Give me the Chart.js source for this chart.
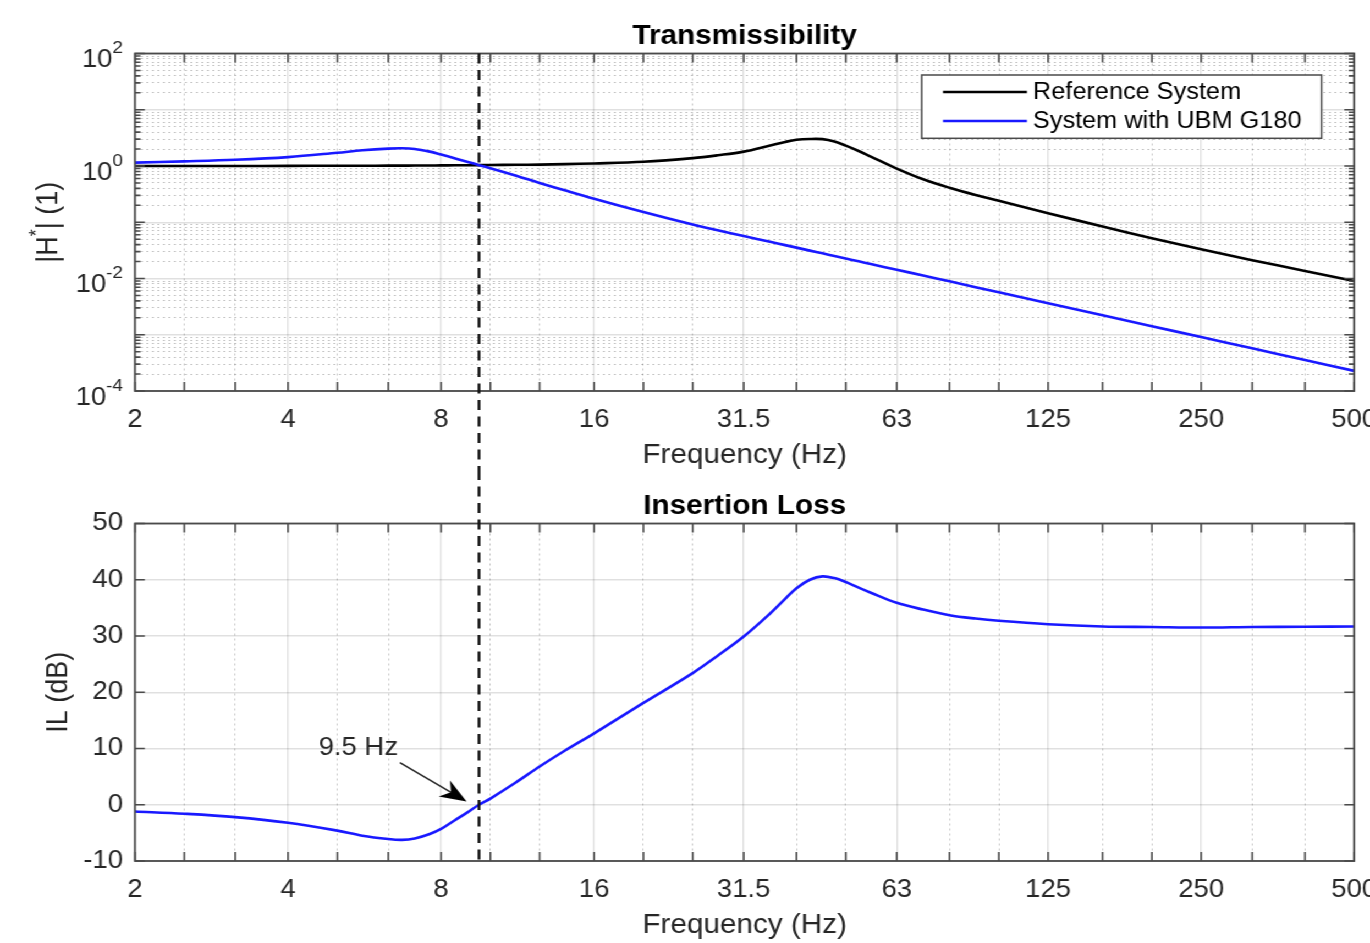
<!DOCTYPE html>
<html>
<head>
<meta charset="utf-8">
<title>Transmissibility / Insertion Loss</title>
<script src="https://cdn.jsdelivr.net/npm/chart.js@4.4.1/dist/chart.umd.min.js"></script>
<style>
  html, body { margin: 0; padding: 0; background: #fff; overflow: hidden; }
  /* the figure is a bit wider than tall in its lettering, so stretch it sideways */
  #wrap { position: absolute; left: 0; top: 0; width: 1266px; height: 943px; transform: scaleX(1.1); transform-origin: 0 0; }
  canvas { position: absolute; left: 0; }
  #topChart { top: 0; }
  #ilChart { top: 470px; }
</style>
</head>
<body>
<div id="wrap">
  <canvas id="topChart" width="1266" height="470"></canvas>
  <canvas id="ilChart" width="1266" height="470"></canvas>
</div>
<script>
// --- data ---
const freqHz = [2, 2.5, 3.15, 4, 5, 5.6, 6.3, 6.7, 7.1, 7.6, 8, 8.5, 9, 9.5, 10, 11.2, 12.5, 14, 16, 20,
  25, 28, 31.5, 35.5, 38, 40, 42.5, 45, 47.5, 50, 53, 56, 63, 71, 80, 90, 100, 125, 160, 200, 250, 315, 400, 500];

// |H*| of the reference system
const refH = [1.0, 1.0, 1.0, 1.005, 1.01, 1.01, 1.015, 1.015, 1.02, 1.02, 1.025, 1.03, 1.03, 1.035, 1.04,
  1.05, 1.06, 1.08, 1.11, 1.19, 1.38, 1.55, 1.80, 2.32, 2.68, 2.92, 3.02, 3.0, 2.72, 2.3, 1.85, 1.47,
  0.90, 0.58, 0.41, 0.305, 0.24, 0.145, 0.084, 0.052, 0.033, 0.0212, 0.0136, 0.0090];

// |H*| with UBM G180
const ubmH = [1.15, 1.21, 1.29, 1.44, 1.72, 1.9, 2.04, 2.07, 2.01, 1.8, 1.6, 1.38, 1.19, 1.035, 0.915,
  0.68, 0.50, 0.37, 0.262, 0.152, 0.091, 0.072, 0.057, 0.0449, 0.0392, 0.0354, 0.0313, 0.0280, 0.0251,
  0.0227, 0.0202, 0.0181, 0.0143, 0.0113, 0.0089, 0.0070, 0.0057, 0.00364, 0.00222, 0.00142, 0.00091,
  0.000573, 0.000356, 0.000228];

// insertion loss (dB)
const ilDb = [-1.2, -1.6, -2.2, -3.2, -4.6, -5.5, -6.1, -6.25, -6.0, -5.2, -4.3, -2.8, -1.4, 0, 1.1,
  3.9, 6.8, 9.6, 12.7, 18.1, 23.4, 26.5, 29.9, 34.0, 36.6, 38.5, 40.0, 40.6, 40.3, 39.6, 38.6, 37.7,
  35.9, 34.7, 33.7, 33.1, 32.7, 32.1, 31.7, 31.6, 31.5, 31.6, 31.65, 31.7];

// ticks
const thirdOctaveHz = [2, 2.5, 3.15, 4, 5, 6.3, 8, 10, 12.5, 16, 20, 25, 31.5, 40, 50, 63, 80, 100, 125,
  160, 200, 250, 315, 400, 500];
const octaveHz = [2, 4, 8, 16, 31.5, 63, 125, 250, 500];
const octaveLabels = ['2', '4', '8', '16', '31.5', '63', '125', '250', '500'];
const hDecades = [1e-4, 1e-3, 1e-2, 1e-1, 1, 10, 100];
const hLabelExponents = [-4, -2, 0, 2];
const ilTicks = [-10, 0, 10, 20, 30, 40, 50];

// crossover marker and its note
const crossoverHz = 9.5;
const noteText = '9.5 Hz';
const notePos = [5.5, 10.1];
const arrowTail = [6.64, 7.5];
const arrowTip = [8.98, 0.6];

// --- styling ---
const FONT = "'Liberation Sans', Arial, Helvetica, sans-serif";
const TEXT = '#262626';
const AXIS = '#4a4a4a';
const GRID_MAJOR = 'rgba(0,0,0,0.12)';
const GRID_MINOR = 'rgba(0,0,0,0.22)';
const BLUE = 'rgb(25,25,255)';
const PLOT_LEFT = 122.7;
const PLOT_RIGHT = 1231.8;
const CANVAS_W = 1266;
const XAXIS_H = 79;

Chart.defaults.font.family = FONT;
Chart.defaults.color = TEXT;

function isOctave(v) {
  return octaveHz.indexOf(v) >= 0;
}

function isDecade(v) {
  const l = Math.log10(v);
  return Math.abs(l - Math.round(l)) < 1e-6;
}

// minor y ticks for the log axis (2..9 in every decade)
const hTicks = [];
hDecades.forEach(d => {
  hTicks.push(d);
  if (d < 100) for (let m = 2; m <= 9; m++) hTicks.push(d * m);
});

function freqAxis() {
  return {
    type: 'logarithmic',
    min: 2,
    max: 500,
    afterBuildTicks: s => { s.ticks = thirdOctaveHz.map(v => ({ value: v })); },
    afterFit: s => { s.height = XAXIS_H; },
    ticks: {
      autoSkip: false,
      maxRotation: 0,
      minRotation: 0,
      padding: 14,
      color: TEXT,
      font: { size: 25 },
      callback: v => {
        const i = octaveHz.indexOf(v);
        return i >= 0 ? octaveLabels[i] : '';
      }
    },
    grid: {
      drawTicks: false,
      color: c => (c.tick && !isOctave(c.tick.value)) ? GRID_MINOR : GRID_MAJOR,
      lineWidth: c => (c.tick && !isOctave(c.tick.value)) ? 1 : 1.4
    },
    border: {
      display: false,
      dash: c => (c.tick && !isOctave(c.tick.value)) ? [2, 3] : []
    },
    title: {
      display: true,
      text: 'Frequency (Hz)',
      color: TEXT,
      font: { size: 27, lineHeight: 1.1 },
      padding: { top: 0, bottom: 0 }
    }
  };
}

function plotTitle(text) {
  return {
    display: true,
    text: text,
    color: '#000',
    fullSize: false,
    font: { size: 27, weight: 'bold', lineHeight: 1 },
    padding: { top: 23.5, bottom: 3 }
  };
}

// box round the plot with inward tick marks on all four sides
const frame = {
  id: 'frame',
  afterDatasetsDraw(chart) {
    const { ctx, chartArea: a, scales } = chart;
    ctx.save();
    ctx.strokeStyle = AXIS;
    ctx.lineWidth = 1.6;
    ctx.beginPath();
    scales.x.ticks.forEach(t => {
      const px = scales.x.getPixelForValue(t.value);
      ctx.moveTo(px, a.bottom); ctx.lineTo(px, a.bottom - 9);
      ctx.moveTo(px, a.top); ctx.lineTo(px, a.top + 9);
    });
    const logY = scales.y.type === 'logarithmic';
    scales.y.ticks.forEach(t => {
      const py = scales.y.getPixelForValue(t.value);
      const len = (logY && !isDecade(t.value)) ? 5 : 9;
      ctx.moveTo(a.left, py); ctx.lineTo(a.left + len, py);
      ctx.moveTo(a.right, py); ctx.lineTo(a.right - len, py);
    });
    ctx.stroke();
    ctx.lineWidth = 1.8;
    ctx.strokeRect(a.left, a.top, a.right - a.left, a.bottom - a.top);
    ctx.restore();
  }
};

// dashed line at the crossover, running into the gap between the two plots
const crossover = {
  id: 'crossover',
  afterDraw(chart, args, opts) {
    const { ctx, chartArea: a } = chart;
    const x = chart.scales.x.getPixelForValue(crossoverHz);
    const y0 = opts.down ? a.top : 0;
    const y1 = opts.down ? chart.height : a.bottom;
    ctx.save();
    ctx.strokeStyle = '#111';
    ctx.lineWidth = 2.4;
    ctx.setLineDash([10, 6.5]);
    ctx.beginPath();
    ctx.moveTo(x, y0);
    ctx.lineTo(x, y1);
    ctx.stroke();
    ctx.restore();
  }
};

// legend box inside the upper plot
const boxLegend = {
  id: 'boxLegend',
  afterDraw(chart, args, opts) {
    if (!opts.show) return;
    const { ctx } = chart;
    ctx.save();
    ctx.fillStyle = '#fff';
    ctx.fillRect(opts.left, opts.top, opts.right - opts.left, opts.bottom - opts.top);
    ctx.strokeStyle = AXIS;
    ctx.lineWidth = 1.5;
    ctx.strokeRect(opts.left, opts.top, opts.right - opts.left, opts.bottom - opts.top);
    ctx.font = `23px ${FONT}`;
    ctx.textBaseline = 'middle';
    ctx.textAlign = 'left';
    chart.data.datasets.forEach((ds, i) => {
      const y = opts.rows[i];
      ctx.strokeStyle = ds.borderColor;
      ctx.lineWidth = ds.borderWidth;
      ctx.beginPath();
      ctx.moveTo(opts.lineFrom, y);
      ctx.lineTo(opts.lineTo, y);
      ctx.stroke();
      ctx.fillStyle = '#000';
      ctx.fillText(ds.label, opts.textX, y + 1);
    });
    ctx.restore();
  }
};

// 10^n labels and |H*| (1) title
const powerLabels = {
  id: 'powerLabels',
  afterDraw(chart, args, opts) {
    if (!opts.show) return;
    const { ctx, chartArea: a } = chart;
    const y = chart.scales.y;
    const right = PLOT_LEFT - 11;
    ctx.save();
    ctx.fillStyle = TEXT;
    ctx.textBaseline = 'middle';
    hLabelExponents.forEach(e => {
      const py = y.getPixelForValue(Math.pow(10, e));
      const sup = String(e);
      ctx.font = `17px ${FONT}`;
      const w = ctx.measureText(sup).width;
      ctx.textAlign = 'left';
      ctx.fillText(sup, right - w, py - 5);
      ctx.font = `25px ${FONT}`;
      ctx.textAlign = 'right';
      ctx.fillText('10', right - w, py + 7);
    });

    ctx.translate(44.5, (a.top + a.bottom) / 2);
    ctx.rotate(-Math.PI / 2);
    const parts = [['|H', 27, 0], ['*', 18, -10], ['| (1)', 27, 0]];
    let total = 0;
    parts.forEach(p => { ctx.font = `${p[1]}px ${FONT}`; p.push(ctx.measureText(p[0]).width); total += p[3]; });
    let x = -total / 2;
    ctx.textAlign = 'left';
    parts.forEach(p => {
      ctx.font = `${p[1]}px ${FONT}`;
      ctx.fillText(p[0], x, p[2]);
      x += p[3];
    });
    ctx.restore();
  }
};

// "9.5 Hz" with arrow
const note = {
  id: 'note',
  afterDatasetsDraw(chart, args, opts) {
    if (!opts.show) return;
    const { ctx, scales: { x, y } } = chart;
    ctx.save();
    ctx.fillStyle = TEXT;
    ctx.font = `25px ${FONT}`;
    ctx.textAlign = 'center';
    ctx.textBaseline = 'middle';
    ctx.fillText(noteText, x.getPixelForValue(notePos[0]), y.getPixelForValue(notePos[1]));

    const x0 = x.getPixelForValue(arrowTail[0]), y0 = y.getPixelForValue(arrowTail[1]);
    const x1 = x.getPixelForValue(arrowTip[0]), y1 = y.getPixelForValue(arrowTip[1]);
    const d = Math.hypot(x1 - x0, y1 - y0);
    const ux = (x1 - x0) / d, uy = (y1 - y0) / d;
    const L = 24, W = 9.5;
    const bx = x1 - ux * L, by = y1 - uy * L;
    const nx = x1 - ux * L * 0.7, ny = y1 - uy * L * 0.7;
    ctx.strokeStyle = TEXT;
    ctx.lineWidth = 1.6;
    ctx.beginPath();
    ctx.moveTo(x0, y0);
    ctx.lineTo(nx, ny);
    ctx.stroke();
    ctx.fillStyle = '#000';
    ctx.beginPath();
    ctx.moveTo(x1, y1);
    ctx.lineTo(bx - uy * W, by + ux * W);
    ctx.lineTo(nx, ny);
    ctx.lineTo(bx + uy * W, by - ux * W);
    ctx.closePath();
    ctx.fill();
    ctx.restore();
  }
};

function points(ys) {
  return freqHz.map((f, i) => ({ x: f, y: ys[i] }));
}

const commonLine = { pointRadius: 0, borderWidth: 2.6, tension: 0.35, fill: false };

// upper plot: transmissibility
new Chart(document.getElementById('topChart'), {
  type: 'line',
  data: {
    datasets: [
      Object.assign({ label: 'Reference System', data: points(refH), borderColor: '#000', order: 1 }, commonLine),
      Object.assign({ label: 'System with UBM G180', data: points(ubmH), borderColor: BLUE, order: 0 }, commonLine)
    ]
  },
  options: {
    responsive: false,
    animation: false,
    events: [],
    layout: { padding: { left: 0, right: CANVAS_W - PLOT_RIGHT, top: 0, bottom: 0 } },
    scales: {
      x: freqAxis(),
      y: {
        type: 'logarithmic',
        min: 1e-4,
        max: 1e2,
        afterBuildTicks: s => { s.ticks = hTicks.map(v => ({ value: v })); },
        afterFit: s => { s.width = PLOT_LEFT; },
        ticks: { display: false },
        grid: {
          drawTicks: false,
          color: c => (c.tick && !isDecade(c.tick.value)) ? GRID_MINOR : GRID_MAJOR,
          lineWidth: c => (c.tick && !isDecade(c.tick.value)) ? 1 : 1.4
        },
        border: {
          display: false,
          dash: c => (c.tick && !isDecade(c.tick.value)) ? [2, 3] : []
        }
      }
    },
    plugins: {
      legend: { display: false },
      tooltip: { enabled: false },
      title: plotTitle('Transmissibility'),
      crossover: { down: true },
      boxLegend: {
        show: true, left: 837.9, top: 75, right: 1201.5, bottom: 138.3,
        lineFrom: 857.3, lineTo: 933.6, textX: 939.1, rows: [92, 121]
      },
      powerLabels: { show: true },
      note: { show: false }
    }
  },
  plugins: [frame, crossover, boxLegend, powerLabels, note]
});

// lower plot: insertion loss
new Chart(document.getElementById('ilChart'), {
  type: 'line',
  data: {
    datasets: [
      Object.assign({ label: 'Insertion Loss', data: points(ilDb), borderColor: BLUE }, commonLine)
    ]
  },
  options: {
    responsive: false,
    animation: false,
    events: [],
    layout: { padding: { left: 0, right: CANVAS_W - PLOT_RIGHT, top: 0, bottom: 0 } },
    scales: {
      x: freqAxis(),
      y: {
        type: 'linear',
        min: -10,
        max: 50,
        afterBuildTicks: s => { s.ticks = ilTicks.map(v => ({ value: v })); },
        afterFit: s => { s.width = PLOT_LEFT; },
        ticks: { padding: 10.9, color: TEXT, font: { size: 25 } },
        grid: { drawTicks: false, color: GRID_MAJOR, lineWidth: 1.4 },
        border: { display: false },
        title: {
          display: true,
          text: 'IL (dB)',
          color: TEXT,
          font: { size: 27 },
          padding: { top: 37.4, bottom: 0 }
        }
      }
    },
    plugins: {
      legend: { display: false },
      tooltip: { enabled: false },
      title: plotTitle('Insertion Loss'),
      crossover: { down: false },
      boxLegend: { show: false },
      powerLabels: { show: false },
      note: { show: true }
    }
  },
  plugins: [frame, crossover, boxLegend, powerLabels, note]
});
</script>
</body>
</html>
